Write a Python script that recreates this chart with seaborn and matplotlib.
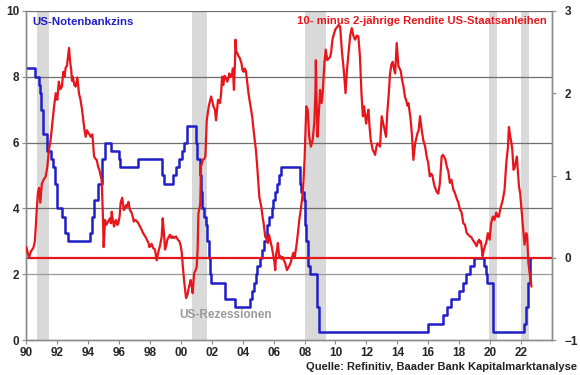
import seaborn as sns
import pandas as pd
import matplotlib
matplotlib.use('Agg')
from matplotlib import pyplot as plt

# Fed funds target rate (left axis), step changes: date, new level
fed_dates = [
    1990.0, 1990.55, 1990.8, 1990.87, 1990.95, 1991.1, 1991.33, 1991.6, 1991.7,
    1991.83, 1991.95, 1992.3, 1992.5, 1992.7, 1994.1, 1994.25, 1994.37, 1994.62,
    1994.87, 1995.1, 1995.5, 1995.97, 1996.08, 1997.23, 1998.75, 1998.8, 1998.88,
    1999.5, 1999.65, 1999.9, 2000.1, 2000.22, 2000.38, 2001.0, 2001.05, 2001.22,
    2001.3, 2001.38, 2001.48, 2001.6, 2001.7, 2001.8, 2001.85, 2001.95, 2002.87,
    2003.48, 2004.5, 2004.6, 2004.72, 2004.87, 2004.95, 2005.1, 2005.22, 2005.37,
    2005.55, 2005.6, 2005.72, 2005.87, 2005.95, 2006.1, 2006.22, 2006.37, 2006.5,
    2007.72, 2007.8, 2007.95, 2008.05, 2008.1, 2008.22, 2008.33, 2008.78, 2008.83,
    2008.96, 2015.96, 2016.96, 2017.2, 2017.46, 2017.96, 2018.22, 2018.46, 2018.72,
    2018.96, 2019.58, 2019.71, 2019.83, 2020.2, 2022.22, 2022.35, 2022.46, 2022.57,
    2022.68,
]
fed_rate = [
    8.25, 8.0, 7.75, 7.5, 7.0, 6.25, 5.75, 5.5, 5.25,
    4.75, 4.0, 3.75, 3.25, 3.0, 3.25, 3.75, 4.25, 4.75,
    5.5, 6.0, 5.75, 5.5, 5.25, 5.5, 5.25, 5.0, 4.75,
    5.0, 5.25, 5.5, 5.75, 6.0, 6.5, 6.0, 5.5, 5.0,
    4.5, 4.0, 3.75, 3.5, 3.0, 2.5, 2.0, 1.75, 1.25,
    1.0, 1.25, 1.5, 1.75, 2.0, 2.25, 2.5, 2.75, 3.0,
    3.25, 3.5, 3.75, 4.0, 4.25, 4.5, 4.75, 5.0, 5.25,
    4.75, 4.5, 4.25, 3.5, 3.0, 2.25, 2.0, 1.5, 1.0,
    0.25, 0.5, 0.75, 1.0, 1.25, 1.5, 1.75, 2.0, 2.25,
    2.5, 2.25, 2.0, 1.75, 0.25, 0.5, 1.0, 1.75, 2.5,
    2.5,
]

# 10y minus 2y Treasury spread (right axis)
spread_dates = [
    1990.0, 1990.1, 1990.17, 1990.3, 1990.45, 1990.55, 1990.67, 1990.75, 1990.82, 1990.9,
    1991.0, 1991.12, 1991.25, 1991.35, 1991.46, 1991.58, 1991.68, 1991.8, 1991.9, 1992.0,
    1992.1, 1992.2, 1992.3, 1992.39, 1992.47, 1992.54, 1992.62, 1992.7, 1992.76, 1992.82,
    1992.9, 1992.95, 1993.0, 1993.1, 1993.19, 1993.3, 1993.4, 1993.5, 1993.6, 1993.68,
    1993.76, 1993.84, 1993.92, 1994.0, 1994.08, 1994.16, 1994.27, 1994.38, 1994.48, 1994.55,
    1994.65, 1994.72, 1994.8, 1994.87, 1994.94, 1995.0, 1995.09, 1995.16, 1995.23, 1995.32,
    1995.41, 1995.47, 1995.52, 1995.6, 1995.67, 1995.74, 1995.8, 1995.88, 1995.95, 1996.03,
    1996.1, 1996.2, 1996.3, 1996.38, 1996.45, 1996.52, 1996.6, 1996.7, 1996.8, 1996.88,
    1996.95, 1997.03, 1997.12, 1997.24, 1997.35, 1997.46, 1997.55, 1997.68, 1997.75, 1997.82,
    1997.9, 1997.96, 1998.05, 1998.1, 1998.2, 1998.32, 1998.43, 1998.55, 1998.65, 1998.75,
    1998.82, 1998.9, 1998.97, 1999.05, 1999.12, 1999.2, 1999.3, 1999.38, 1999.47, 1999.55,
    1999.62, 1999.68, 1999.8, 1999.9, 1999.98, 2000.05, 2000.12, 2000.2, 2000.28, 2000.33,
    2000.42, 2000.48, 2000.55, 2000.63, 2000.7, 2000.76, 2000.85, 2000.95, 2001.02, 2001.08,
    2001.13, 2001.2, 2001.25, 2001.3, 2001.41, 2001.5, 2001.58, 2001.67, 2001.8, 2001.95,
    2002.03, 2002.1, 2002.2, 2002.27, 2002.4, 2002.53, 2002.6, 2002.66, 2002.75, 2002.81,
    2002.88, 2003.0, 2003.07, 2003.13, 2003.2, 2003.3, 2003.36, 2003.43, 2003.5, 2003.53,
    2003.58, 2003.64, 2003.72, 2003.8, 2003.92, 2003.98, 2004.06, 2004.12, 2004.2, 2004.28,
    2004.37, 2004.45, 2004.54, 2004.62, 2004.7, 2004.78, 2004.85, 2004.92, 2004.98, 2005.07,
    2005.2, 2005.28, 2005.35, 2005.45, 2005.55, 2005.63, 2005.7, 2005.78, 2005.88, 2005.99,
    2006.05, 2006.1, 2006.16, 2006.22, 2006.27, 2006.36, 2006.43, 2006.5, 2006.58, 2006.65,
    2006.72, 2006.8, 2006.86, 2006.92, 2007.0, 2007.08, 2007.18, 2007.27, 2007.35, 2007.46,
    2007.57, 2007.65, 2007.75, 2007.83, 2007.9, 2008.0, 2008.05, 2008.11, 2008.2, 2008.3,
    2008.41, 2008.52, 2008.63, 2008.7, 2008.73, 2008.78, 2008.84, 2008.9, 2008.95, 2009.0,
    2009.1, 2009.17, 2009.23, 2009.3, 2009.37, 2009.47, 2009.55, 2009.65, 2009.72, 2009.8,
    2009.9, 2010.0, 2010.1, 2010.2, 2010.3, 2010.42, 2010.5, 2010.57, 2010.65, 2010.74,
    2010.85, 2010.95, 2011.05, 2011.17, 2011.27, 2011.38, 2011.48, 2011.58, 2011.68, 2011.77,
    2011.85, 2011.98, 2012.05, 2012.13, 2012.2, 2012.28, 2012.41, 2012.5, 2012.56, 2012.65,
    2012.71, 2012.8, 2012.88, 2012.99, 2013.07, 2013.14, 2013.27, 2013.35, 2013.45, 2013.53,
    2013.62, 2013.7, 2013.78, 2013.86, 2013.96, 2014.07, 2014.15, 2014.22, 2014.32, 2014.4,
    2014.5, 2014.57, 2014.65, 2014.72, 2014.85, 2014.94, 2015.04, 2015.1, 2015.15, 2015.3,
    2015.38, 2015.47, 2015.58, 2015.68, 2015.8, 2015.9, 2016.0, 2016.1, 2016.2, 2016.27,
    2016.37, 2016.43, 2016.55, 2016.65, 2016.75, 2016.82, 2016.87, 2016.95, 2017.02, 2017.1,
    2017.2, 2017.3, 2017.4, 2017.5, 2017.62, 2017.7, 2017.79, 2017.88, 2017.95, 2018.05,
    2018.16, 2018.27, 2018.38, 2018.49, 2018.6, 2018.7, 2018.8, 2018.87, 2018.95, 2019.02,
    2019.13, 2019.22, 2019.3, 2019.36, 2019.41, 2019.47, 2019.52, 2019.6, 2019.68, 2019.75,
    2019.86, 2019.97, 2020.07, 2020.18, 2020.29, 2020.4, 2020.48, 2020.57, 2020.65, 2020.72,
    2020.83, 2020.94, 2021.05, 2021.16, 2021.22, 2021.31, 2021.38, 2021.44, 2021.52, 2021.6,
    2021.65, 2021.74, 2021.8, 2021.87, 2021.95, 2022.02, 2022.13, 2022.23, 2022.3, 2022.34,
    2022.4, 2022.48, 2022.59, 2022.68,
]
spread = [
    0.13, 0.05, 0.01, 0.08, 0.12, 0.2, 0.58, 0.8, 0.85, 0.67,
    0.9, 0.95, 0.99, 1.1, 1.31, 1.45, 1.64, 1.85, 2.0, 1.92,
    2.14, 2.05, 2.08, 2.26, 2.2, 2.31, 2.33, 2.45, 2.55, 2.4,
    2.28, 2.15, 2.2, 2.1, 2.08, 2.19, 2.0, 1.92, 1.8, 1.67,
    1.55, 1.47, 1.55, 1.52, 1.5, 1.47, 1.5, 1.23, 1.2, 1.19,
    1.1, 1.07, 1.0, 0.95, 0.58, 0.13, 0.46, 0.4, 0.42, 0.45,
    0.48, 0.42, 0.56, 0.45, 0.38, 0.44, 0.46, 0.4, 0.42, 0.5,
    0.67, 0.73, 0.58, 0.6, 0.64, 0.62, 0.68, 0.58, 0.55, 0.5,
    0.44, 0.46, 0.45, 0.42, 0.38, 0.34, 0.3, 0.26, 0.24, 0.21,
    0.18, 0.13, 0.15, 0.17, 0.12, 0.1, -0.03, 0.08, 0.15, 0.25,
    0.48, 0.3, 0.1, 0.15, 0.22, 0.25, 0.28, 0.24, 0.26, 0.24,
    0.25, 0.26, 0.22, 0.2, 0.15, 0.07, -0.1, -0.27, -0.4, -0.49,
    -0.45, -0.39, -0.33, -0.27, -0.35, -0.43, -0.19, -0.15, -0.11, 0.1,
    0.54, 0.6, 0.67, 1.11, 1.19, 1.2, 1.23, 1.67, 1.84, 1.96,
    1.9, 1.84, 1.8, 1.67, 1.92, 1.88, 2.0, 2.2, 2.1, 2.21,
    2.2, 2.14, 2.18, 2.24, 2.2, 2.22, 2.3, 2.04, 2.4, 2.65,
    2.5, 2.49, 2.45, 2.43, 2.36, 2.28, 2.26, 2.3, 2.27, 2.15,
    2.0, 1.9, 1.8, 1.7, 1.55, 1.42, 1.31, 1.15, 0.99, 0.74,
    0.62, 0.5, 0.42, 0.26, 0.22, 0.18, 0.28, 0.21, 0.13, 0.01,
    -0.05, -0.15, 0.05, 0.1, 0.18, 0.01, 0.02, -0.01, 0.01, -0.03,
    -0.05, -0.11, -0.15, -0.13, -0.1, -0.07, 0.0, 0.06, 0.0, 0.13,
    0.3, 0.45, 0.58, 0.7, 0.82, 1.2, 1.5, 1.84, 1.8, 1.47,
    1.35, 1.43, 1.64, 2.0, 2.4, 1.9, 1.47, 1.7, 1.84, 2.04,
    1.88, 2.0, 2.2, 2.4, 2.53, 2.4, 2.42, 2.44, 2.5, 2.65,
    2.72, 2.78, 2.8, 2.83, 2.81, 2.5, 2.35, 2.2, 2.0, 2.28,
    2.5, 2.7, 2.79, 2.69, 2.65, 2.7, 2.69, 2.45, 2.0, 1.72,
    1.84, 1.63, 1.72, 1.8, 1.6, 1.43, 1.31, 1.28, 1.25, 1.35,
    1.39, 1.38, 1.35, 1.72, 1.65, 1.59, 1.47, 1.76, 2.0, 2.24,
    2.35, 2.38, 2.3, 2.24, 2.61, 2.33, 2.3, 2.27, 2.15, 2.08,
    1.95, 1.92, 1.85, 1.88, 1.7, 1.51, 1.19, 1.3, 1.39, 1.51,
    1.55, 1.72, 1.55, 1.43, 1.35, 1.23, 1.15, 0.99, 1.02, 1.0,
    0.9, 0.86, 0.8, 0.78, 0.9, 1.1, 1.23, 1.25, 1.23, 1.2,
    1.11, 1.05, 0.91, 0.95, 0.83, 0.8, 0.75, 0.7, 0.67, 0.59,
    0.55, 0.42, 0.4, 0.3, 0.28, 0.26, 0.25, 0.22, 0.2, 0.18,
    0.14, 0.2, 0.22, 0.18, 0.2, 0.1, 0.02, 0.1, 0.15, 0.18,
    0.3, 0.22, 0.42, 0.5, 0.46, 0.55, 0.5, 0.5, 0.58, 0.63,
    0.71, 0.83, 1.15, 1.35, 1.59, 1.47, 1.4, 1.31, 1.07, 1.1,
    1.15, 1.23, 1.05, 0.87, 0.78, 0.63, 0.38, 0.16, 0.25, 0.3,
    0.26, -0.06, -0.23, -0.35,
]

# US recessions as drawn (start, end)
recession_start = [1990.7, 2000.72, 2008.02, 2019.94, 2022.0]
recession_end = [1991.45, 2001.68, 2009.37, 2020.44, 2022.5]

year_ticks = list(range(1990, 2023, 2))
year_labels = ['%02d' % (y % 100) for y in year_ticks]

fed = pd.DataFrame({'date': fed_dates, 'rate': fed_rate})
curve = pd.DataFrame({'date': spread_dates, 'spread': spread})

blue = '#1f1fc8'
red = '#e8161b'

sns.set_style('white')
plt.rcParams['font.family'] = ['Liberation Sans', 'DejaVu Sans']

fig = plt.figure(figsize=(5.8, 3.75), dpi=100)
ax = fig.add_axes([0.0455, 0.093, 0.906, 0.878])
ax2 = ax.twinx()

for s, e in zip(recession_start, recession_end):
    ax.axvspan(s, e, color='#d9d9d9', lw=0, zorder=0)

ax.set_ylim(0, 10)
ax.set_yticks([0, 2, 4, 6, 8, 10])
for v, c in [(2, '#9a9a9a'), (4, '#6e6e6e'), (6, '#6e6e6e'), (8, '#6e6e6e'), (10, '#6e6e6e')]:
    ax.axhline(v, color=c, lw=0.9, zorder=1)

sns.lineplot(data=fed, x='date', y='rate', ax=ax, color=blue, lw=1.8,
             drawstyle='steps-post', zorder=3)
ax.set_xlim(1990, 2024)
ax.set_xticks(year_ticks)
ax.set_xticklabels(year_labels)

ax2.set_ylim(-1, 3)
ax2.set_yticks([-1, 0, 1, 2, 3])
ax2.axhline(0, color=red, lw=1.6, zorder=2)
sns.lineplot(data=curve, x='date', y='spread', ax=ax2, color=red, lw=1.6, zorder=4)

for a in (ax, ax2):
    a.set_xlabel('')
    a.set_ylabel('')
    a.spines['top'].set_visible(False)
    for side in ('left', 'bottom', 'right'):
        a.spines[side].set_color('#8c8c8c')
        a.spines[side].set_linewidth(1.0)
    a.tick_params(axis='both', length=3, width=0.8, color='#8c8c8c', labelsize=8.5,
                  pad=2)
    for lab in a.get_xticklabels() + a.get_yticklabels():
        lab.set_fontweight('bold')
ax.tick_params(axis='y', left=True)
ax.tick_params(axis='x', bottom=True)
ax2.tick_params(axis='y', right=True, pad=6)

fig.text(0.055, 0.942, 'US-Notenbankzins', color=blue, fontsize=8.2, fontweight='bold',
         va='center', ha='left')
fig.text(0.942, 0.943, '10- minus 2-jährige Rendite US-Staatsanleihen', color=red,
         fontsize=8.1, fontweight='bold', va='center', ha='right')
fig.text(0.389, 0.16, 'US-Rezessionen', color='#999999', fontsize=8.5, fontweight='bold',
         va='center', ha='center')
fig.text(0.995, 0.022, 'Quelle: Refinitiv, Baader Bank Kapitalmarktanalyse', color='#222222',
         fontsize=8, fontweight='bold', va='center', ha='right')

fig.savefig('out.png', dpi=100)
